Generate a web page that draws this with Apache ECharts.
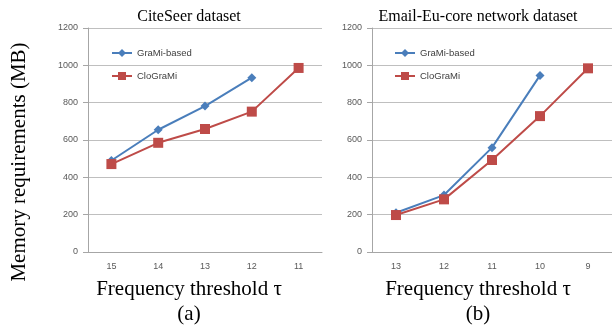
<!DOCTYPE html>
<html><head><meta charset="utf-8">
<script src="https://cdn.jsdelivr.net/npm/echarts@6/dist/echarts.min.js"></script>
<style>html,body{margin:0;padding:0;background:#fff}#c{width:612px;height:326px}</style>
</head><body><div id="c"></div>
<script>
const catsA = ['15','14','13','12','11'];
const gramiA = [490, 655, 782, 934, null];
const clogramiA = [471, 585, 659, 752, 986];
const catsB = ['13','12','11','10','9'];
const gramiB = [210, 305, 559, 946, null];
const clogramiB = [198, 282, 493, 728, 984];
const yTicks = [0, 200, 400, 600, 800, 1000, 1200];
const titleA = 'CiteSeer dataset';
const titleB = 'Email-Eu-core network dataset';

const blue = '#4A7EBB', red = '#BE4B48';
const serif = '"Liberation Serif","DejaVu Serif",serif';
const sans = '"Liberation Sans","DejaVu Sans",sans-serif';
const chart = echarts.init(document.getElementById('c'), null, {renderer:'canvas'});

function xAxis(gi, cats){
  return {type:'category', gridIndex:gi, data:cats, boundaryGap:true,
    axisLine:{lineStyle:{color:'#A6A6A6'}}, axisTick:{length:4, lineStyle:{color:'#A6A6A6'}},
    axisLabel:{fontFamily:sans, fontSize:9, color:'#595959', margin:10}};
}
function yAxis(gi){
  return {type:'value', gridIndex:gi, min:yTicks[0], max:yTicks[yTicks.length-1], interval:200,
    axisLine:{show:true, lineStyle:{color:'#A6A6A6'}}, axisTick:{show:true, length:5, lineStyle:{color:'#A6A6A6'}},
    splitLine:{lineStyle:{color:'#BFBFBF'}},
    axisLabel:{fontFamily:sans, fontSize:9, color:'#595959', margin:10, formatter:(v)=>String(v)}};
}
function ser(name, data, gi, color, sym, size){
  return {name, type:'line', xAxisIndex:gi, yAxisIndex:gi, data, symbol:sym, symbolSize:size,
    lineStyle:{color, width:2}, itemStyle:{color}, connectNulls:false, animation:false};
}
function legend(left, names){
  return {orient:'vertical', left, top:43, itemWidth:20, itemHeight:10, itemGap:13,
    textStyle:{fontFamily:sans, fontSize:9.5, color:'#404040'}, data:names};
}
chart.setOption({
  animation:false,
  grid:[{left:88, top:28, width:234, height:224},{left:372, top:28, width:241, height:224}],
  xAxis:[xAxis(0,catsA), xAxis(1,catsB)],
  yAxis:[yAxis(0), yAxis(1)],
  legend:[legend(106, ['GraMi-based','CloGraMi']), legend(389, ['GraMi-based ','CloGraMi '])],
  series:[
    ser('GraMi-based', gramiA, 0, blue, 'diamond', 9),
    ser('CloGraMi', clogramiA, 0, red, 'rect', 10),
    ser('GraMi-based ', gramiB, 1, blue, 'diamond', 9),
    ser('CloGraMi ', clogramiB, 1, red, 'rect', 10)
  ],
  title:[
    {text:titleA, left:184, top:4, textAlign:'center', textStyle:{fontFamily:serif, fontSize:16, fontWeight:'normal', color:'#000'}},
    {text:titleB, left:473, top:4, textAlign:'center', textStyle:{fontFamily:serif, fontSize:16, fontWeight:'normal', color:'#000'}},
    {text:'Frequency threshold τ', left:184, top:274, textAlign:'center', textStyle:{fontFamily:serif, fontSize:21, fontWeight:'normal', color:'#000'}},
    {text:'Frequency threshold τ', left:473, top:274, textAlign:'center', textStyle:{fontFamily:serif, fontSize:21, fontWeight:'normal', color:'#000'}},
    {text:'(a)', left:184, top:299, textAlign:'center', textStyle:{fontFamily:serif, fontSize:21, fontWeight:'normal', color:'#000'}},
    {text:'(b)', left:473, top:299, textAlign:'center', textStyle:{fontFamily:serif, fontSize:21, fontWeight:'normal', color:'#000'}}
  ],
  graphic:[
    {type:'text', x:19, y:162, rotation:Math.PI/2, style:{text:'Memory requirements (MB)', font:'21px '+serif, fill:'#000', align:'center', verticalAlign:'middle'}}
  ]
});
</script></body></html>
